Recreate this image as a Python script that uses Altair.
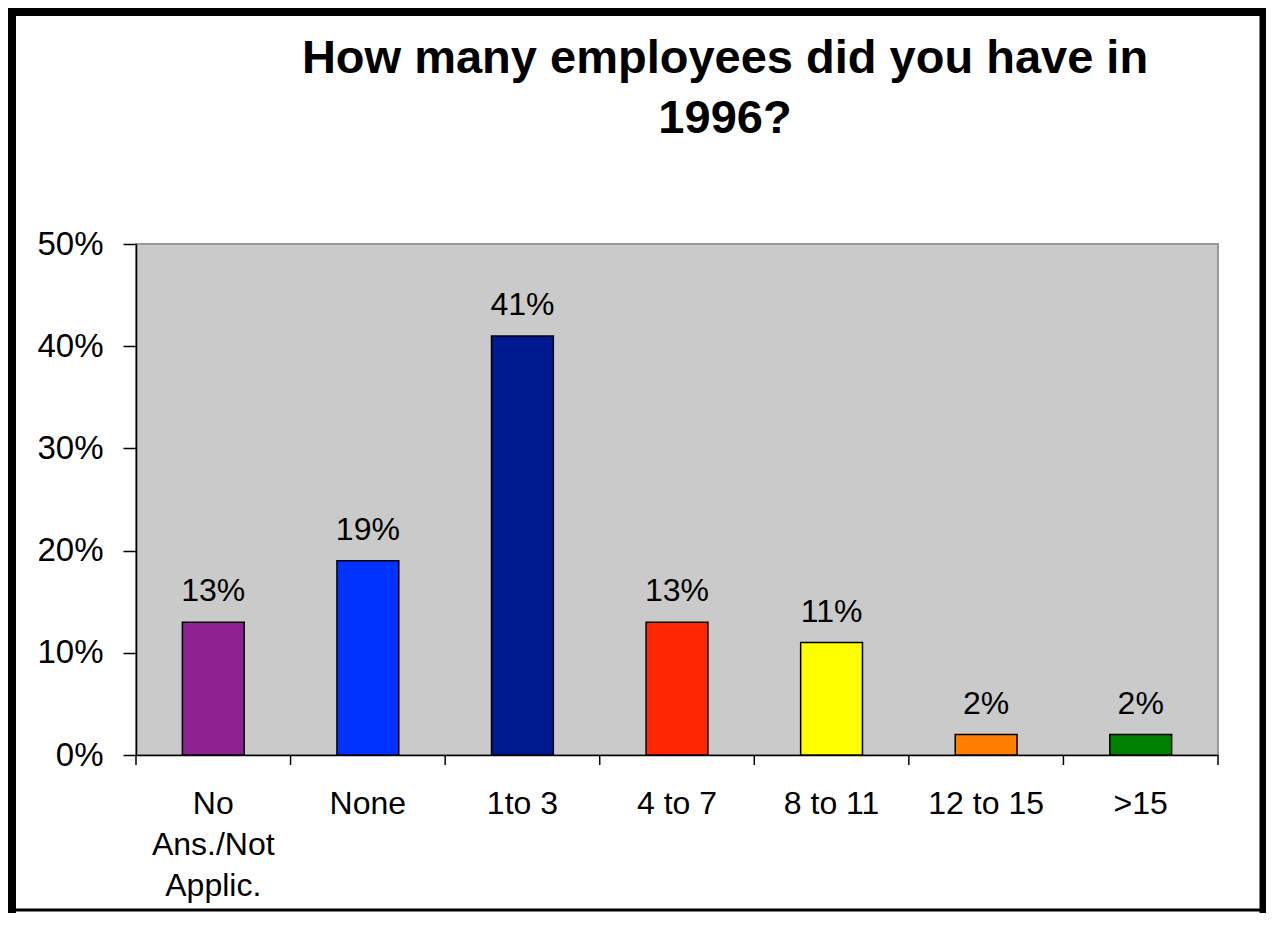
import altair as alt
import pandas as pd

categories = ["No Ans./Not Applic.", "None", "1to 3", "4 to 7", "8 to 11", "12 to 15", ">15"]
percents = [13, 19, 41, 13, 11, 2, 2]
colors = ["#8E2190", "#0033FF", "#001890", "#FF2600", "#FFFF00", "#FF7F00", "#008000"]
y_ticks = [0, 10, 20, 30, 40, 50]
title_lines = ["How many employees did you have in", "1996?"]

df = pd.DataFrame({"cat": categories, "pct": percents, "color": colors})
df["label"] = df["pct"].astype(str) + "%"

FONT = "Liberation Sans"
W, H = 1082, 511
PAD_OUT = 0.3
STEP = W / len(categories)
HALF_GAP = PAD_OUT * STEP

x_scale = alt.Scale(domain=categories, paddingInner=0.6, paddingOuter=PAD_OUT)

x_enc = alt.X(
    "cat:N",
    sort=categories,
    scale=x_scale,
    axis=alt.Axis(
        title=None,
        labelAngle=0,
        labelFont=FONT,
        labelFontSize=32,
        labelColor="black",
        labelPadding=33,
        labelLineHeight=41,
        labelBaseline="top",
        labelExpr="datum.label == 'No Ans./Not Applic.' ? ['No', 'Ans./Not', 'Applic.'] : datum.label",
        ticks=False,
        domainColor="black",
        domainWidth=1.5,
        grid=False,
    ),
)
y_enc = alt.Y(
    "pct:Q",
    scale=alt.Scale(domain=[0, 50], nice=False),
    axis=alt.Axis(
        title=None,
        values=y_ticks,
        labelExpr="datum.value + '%'",
        labelFont=FONT,
        labelFontSize=33,
        labelColor="black",
        labelPadding=20,
        tickSize=13,
        tickColor="black",
        tickWidth=1.5,
        domainColor="black",
        domainWidth=1.5,
        grid=False,
    ),
)

base = alt.Chart(df)

bars = base.mark_bar(stroke="black", strokeWidth=1.5).encode(
    x=x_enc,
    y=y_enc,
    color=alt.Color("color:N", scale=None),
)

labels = base.mark_text(
    font=FONT, fontSize=32, color="black", baseline="alphabetic", dy=-21
).encode(
    x=alt.X("cat:N", sort=categories, scale=x_scale),
    y="pct:Q",
    text="label:N",
)

# category boundary ticks (Excel style: between categories)
ticks_start = base.mark_rule(color="black", strokeWidth=1.5, xOffset=-HALF_GAP).encode(
    x=alt.X("cat:N", sort=categories, scale=x_scale, bandPosition=0),
    y=alt.value(H),
    y2=alt.value(H + 10),
)
ticks_end = alt.Chart(df.tail(1)).mark_rule(color="black", strokeWidth=1.5, xOffset=HALF_GAP).encode(
    x=alt.X("cat:N", sort=categories, scale=x_scale, bandPosition=1),
    y=alt.value(H),
    y2=alt.value(H + 10),
)

# outer picture frame
one = pd.DataFrame({"k": [0]})
frame_left = alt.Chart(one).mark_rule(color="black", strokeWidth=9, clip=False).encode(
    x=alt.value(-124.5), y=alt.value(-240), y2=alt.value(670)
)
frame_top = alt.Chart(one).mark_rule(color="black", strokeWidth=9, clip=False).encode(
    x=alt.value(-129), x2=alt.value(1140), y=alt.value(-232.5)
)
frame_right = alt.Chart(one).mark_rule(color="black", strokeWidth=9, clip=False).encode(
    x=alt.value(1128), y=alt.value(-240), y2=alt.value(670)
)
frame_bottom = alt.Chart(one).mark_rule(color="black", strokeWidth=3, clip=False).encode(
    x=alt.value(-129), x2=alt.value(1140), y=alt.value(666)
)

chart = (
    alt.layer(bars, labels, ticks_start, ticks_end, frame_left, frame_top, frame_right, frame_bottom)
    .properties(
        width=W,
        height=H,
        autosize=alt.AutoSizeParams(type="none"),
        padding={"left": 128, "top": 236, "right": 48, "bottom": 158},
        title=alt.TitleParams(
            text=title_lines,
            font=FONT,
            fontSize=47,
            fontWeight="bold",
            color="black",
            lineHeight=60,
            anchor="middle",
            frame="group",
            baseline="bottom",
            dx=48,
            offset=-190,
        ),
    )
    .configure(background="white")
    .configure_view(fill="#CACACA", stroke="#999999", strokeWidth=2)
)

chart.save("out.html", embed_options={"renderer": "svg", "actions": False})
